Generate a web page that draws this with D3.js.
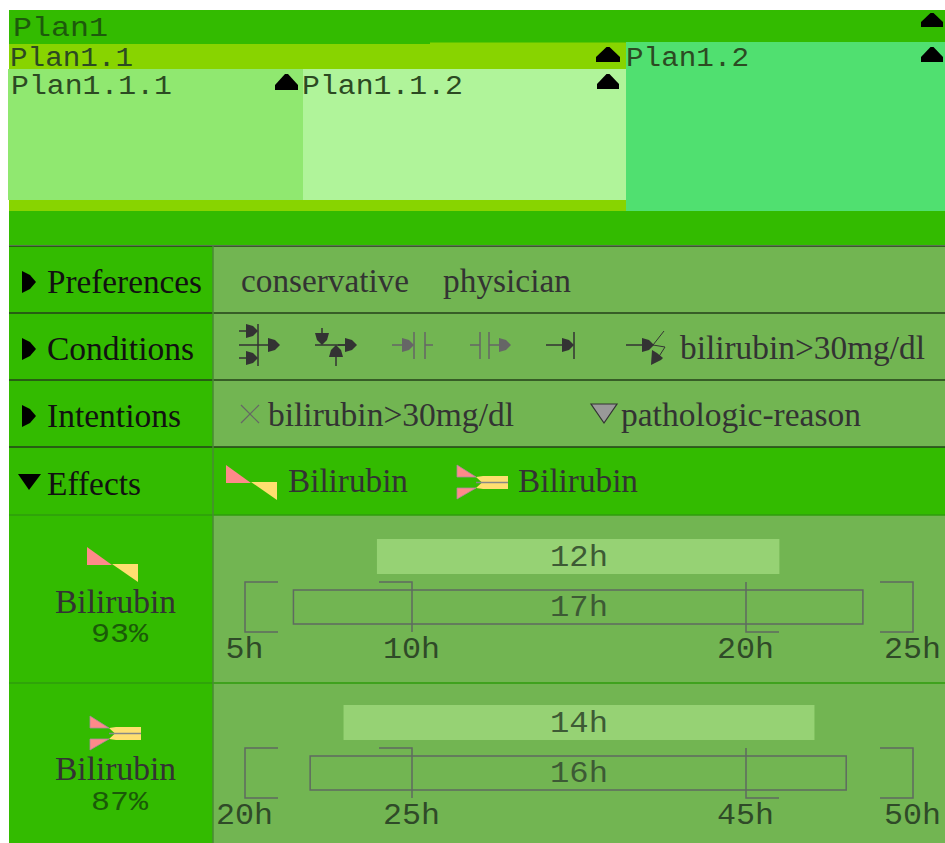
<!DOCTYPE html>
<html>
<head>
<meta charset="utf-8">
<script src="https://cdn.jsdelivr.net/npm/d3@7"></script>
<style>
  body { margin: 0; background: #fff; }
  svg { display: block; }
</style>
</head>
<body>
<svg id="chart" width="945" height="843"></svg>
<script>
// Data
const planNames = ["Plan1", "Plan1.1", "Plan1.1.1", "Plan1.1.2", "Plan1.2"];
const rowNames = ["Preferences", "Conditions", "Intentions", "Effects"];
const preferences = ["conservative", "physician"];
const conditionText = "bilirubin>30mg/dl";
const intentions = ["bilirubin>30mg/dl", "pathologic-reason"];
const effectNames = ["Bilirubin", "Bilirubin"];
const effectPercents = ["93%", "87%"];
const effectTicks = [[5, 10, 20, 25], [20, 25, 45, 50]];
const innerRanges = [[8.95, 21], [22.95, 47.05]];
const outerRanges = [[6.45, 23.5], [21.95, 48]];
const innerLabels = ["12h", "14h"];
const outerLabels = ["17h", "16h"];

const svg = d3.select("#chart");
const GREEN = "#33bb00", PANEL = "#72b552", DARK = "#333";
const MONO = "'Liberation Mono', monospace", SERIF = "'Liberation Serif', serif";

function rect(x0, y0, x1, y1, fill) {
  return svg.append("rect").attr("x", x0).attr("y", y0)
    .attr("width", x1 - x0).attr("height", y1 - y0).attr("fill", fill);
}
function line(x1, y1, x2, y2, stroke, w) {
  return svg.append("line").attr("x1", x1).attr("y1", y1).attr("x2", x2).attr("y2", y2)
    .attr("stroke", stroke).attr("stroke-width", w || 1.5);
}
function poly(points, fill) {
  return svg.append("polygon").attr("points", points.join(" ")).attr("fill", fill);
}
// text squeezed to the measured width, the original glyphs are tall and narrow
function label(str, x, y, size, width, family, fill) {
  return svg.append("text").attr("x", x).attr("y", y)
    .attr("font-size", size).attr("font-family", family).attr("fill", fill || DARK)
    .attr("textLength", width).attr("lengthAdjust", "spacingAndGlyphs").text(str);
}
function arrowRight(x0, tip, y, color) {
  line(x0, y, tip - 8, y, color);
  poly([[tip, y], [tip - 5, y - 5], [tip - 12, y - 7], [tip - 12, y + 7], [tip - 5, y + 5]], color);
}
function arrowVert(x, y0, tip, color) {
  const s = tip > y0 ? 1 : -1;
  line(x, y0, x, tip - 8 * s, color);
  poly([[x, tip], [x - 5, tip - 5 * s], [x - 7, tip - 12 * s], [x + 7, tip - 12 * s], [x + 5, tip - 5 * s]], color);
}
function upToggle(x0, x1, y0, y1) {
  const m = (x0 + x1) / 2;
  poly([[m - 1.5, y0], [m + 1.5, y0], [x1, y1 - 5], [x1, y1], [x0, y1], [x0, y1 - 5]], "#000");
}

// Plan hierarchy
rect(9, 10, 945, 245, GREEN);
rect(9, 44, 430, 211, "#88d400");
rect(430, 42.5, 626, 211, "#88d400");
rect(8, 69, 303, 200, "#90e870");
rect(303, 69, 626, 200, "#b0f49a");
rect(626, 42, 945, 211, "#50e070");

const planText = "#2c4a22";
label(planNames[0], 13, 36, 28, 95, MONO, "#1d5a0c");
label(planNames[1], 10, 66, 27, 123, MONO, planText);
label(planNames[2], 11, 94, 27, 161, MONO, planText);
label(planNames[3], 302, 94, 27, 161, MONO, planText);
label(planNames[4], 626, 66, 27, 123, MONO, planText);
upToggle(921, 943, 13, 27);
upToggle(596, 620, 47, 62);
upToggle(275, 298, 74, 90);
upToggle(597, 619, 74, 89);
upToggle(921, 943, 47, 62);

// Rows
rect(9, 246, 945, 843, GREEN);
rect(213, 246, 945, 447, PANEL);
rect(213, 515, 945, 843, PANEL);
[246, 313, 380, 447].forEach(y => line(9, y, 945, y, "#24401a", 1.5));
[515, 683].forEach(y => line(9, y, 945, y, "#2f9c0c", 1.5));
line(213, 246, 213, 843, "#4a8a35", 1.5);

const rowBase = [293, 360, 427, 495];
const rowWidth = [155, 147, 134, 94];
rowNames.forEach((name, i) => {
  label(name, 47, rowBase[i], 34, rowWidth[i], SERIF, "#111");
  if (i < 3) poly([[22, rowBase[i] - 22], [30, rowBase[i] - 18], [36, rowBase[i] - 11], [30, rowBase[i] - 4], [22, rowBase[i]]], "#000");
});
poly([[18, 474], [41, 474], [29, 490]], "#000");

label(preferences[0], 241, 292, 33, 168, SERIF);
label(preferences[1], 443, 292, 33, 128, SERIF);

// Condition glyphs
const GREY = "#666";
line(258, 324, 258, 366, DARK);
arrowRight(239, 258, 331, DARK);
arrowRight(239, 258, 358, DARK);
arrowRight(239, 280, 345, DARK);

line(315, 345, 350, 345, DARK);
arrowVert(322, 328, 345, DARK);
arrowVert(336, 366, 345, DARK);
arrowRight(338, 357, 345, DARK);

arrowRight(392, 414, 345, GREY);
line(414, 332, 414, 359, GREY);
line(425, 332, 425, 359, GREY);
line(425, 345, 433, 345, GREY);

line(470, 345, 480, 345, GREY);
line(480, 332, 480, 359, GREY);
line(489, 332, 489, 359, GREY);
arrowRight(489, 511, 345, GREY);

arrowRight(546, 574, 345, DARK);
line(574, 332, 574, 359, DARK);

arrowRight(626, 654, 345, DARK);
svg.append("path").attr("d", "M664,331 L653,345 L665,347 L658,358")
  .attr("fill", "none").attr("stroke", DARK).attr("stroke-width", 1);
poly([[651, 365], [652, 350], [657, 353], [663, 358], [661, 360]], DARK);
label(conditionText, 680, 359, 33, 245, SERIF);

// Intention glyphs
line(241, 405, 259, 423, GREY, 1.2);
line(259, 405, 241, 423, GREY, 1.2);
label(intentions[0], 268, 426, 33, 246, SERIF);
poly([[591, 404], [617, 404], [604, 423]], "#999").attr("stroke", "#333").attr("stroke-width", 1.2);
label(intentions[1], 621, 426, 33, 240, SERIF);

// Effect glyphs
const PINK = "#ff8a8a", YELLOW = "#ffdf70";
function increaseIcon(dx, dy) {
  const g = svg.append("g").attr("transform", `translate(${dx},${dy})`);
  g.append("polygon").attr("points", "0,0 0,18 25,18").attr("fill", PINK);
  g.append("polygon").attr("points", "25,17 51,17 51,35").attr("fill", YELLOW);
}
function steadyIcon(dx, dy) {
  const g = svg.append("g").attr("transform", `translate(${dx},${dy})`);
  g.append("polygon").attr("points", "0,0 0,12 19,12").attr("fill", PINK).attr("stroke", "#a98aa0").attr("stroke-width", 0.8);
  g.append("polygon").attr("points", "0,34 0,23 19,23").attr("fill", PINK).attr("stroke", "#a98aa0").attr("stroke-width", 0.8);
  g.append("polygon").attr("points", "26,11 51,11 51,24 26,24 19,23 25,17.5 19,12").attr("fill", YELLOW);
  g.append("line").attr("x1", 19).attr("y1", 17.5).attr("x2", 51).attr("y2", 17.5)
    .attr("stroke", "#888").attr("stroke-width", 1.5);
}
increaseIcon(226, 465);
label(effectNames[0], 288, 492, 33, 120, SERIF);
steadyIcon(457, 465);
label(effectNames[1], 518, 492, 33, 120, SERIF);
increaseIcon(87, 547);
steadyIcon(90, 716);

// One time chart per effect
const tickX = [245, 412, 746, 913];
const chartTop = [539, 705];
const iconLabelY = [613, 780];
const percentY = [642, 810];

effectNames.forEach((name, i) => {
  const x = d3.scaleLinear().domain(effectTicks[i]).range(tickX);
  const top = chartTop[i];
  const BOX = "#5f6a60";

  label(name, 55, iconLabelY[i], 33, 121, SERIF);
  label(effectPercents[i], 91, percentY[i], 28, 57, MONO, "#1a5a08");

  // inner range
  rect(x(innerRanges[i][0]), top, x(innerRanges[i][1]), top + 35, "#96d274");
  label(innerLabels[i], 550, top + 27, 30, 58, MONO, "#3d5a35");

  // outer range
  svg.append("rect").attr("x", x(outerRanges[i][0])).attr("y", top + 51)
    .attr("width", x(outerRanges[i][1]) - x(outerRanges[i][0])).attr("height", 34)
    .attr("fill", "none").attr("stroke", BOX).attr("stroke-width", 1.5);
  label(outerLabels[i], 550, top + 77, 30, 58, MONO, "#3d5a35");

  // brackets around the ticks
  const t = effectTicks[i], by0 = top + 43, by1 = top + 93, arm = 33;
  svg.append("path").attr("fill", "none").attr("stroke", BOX).attr("stroke-width", 1.5)
    .attr("d", `M${x(t[0]) + arm},${by0} H${x(t[0])} V${by1} H${x(t[0]) + arm}`
      + ` M${x(t[1]) - arm},${by0} H${x(t[1])} V${by1}`
      + ` M${x(t[2])},${by0} V${by1} H${x(t[2]) + arm}`
      + ` M${x(t[3]) - arm},${by0} H${x(t[3])} V${by1} H${x(t[3]) - arm}`);

  // tick labels
  const axis = d3.axisBottom(x).tickValues(t).tickSize(0).tickFormat(d => d + "h");
  const g = svg.append("g").attr("transform", `translate(-1,${top + 96})`).call(axis);
  g.select(".domain").remove();
  g.selectAll("text").attr("font-family", MONO).attr("font-size", 30)
    .attr("fill", "#2f4a28").attr("dy", 0).attr("y", 23)
    .attr("textLength", d => (d + "h").length * 19).attr("lengthAdjust", "spacingAndGlyphs");
});
</script>
</body>
</html>
